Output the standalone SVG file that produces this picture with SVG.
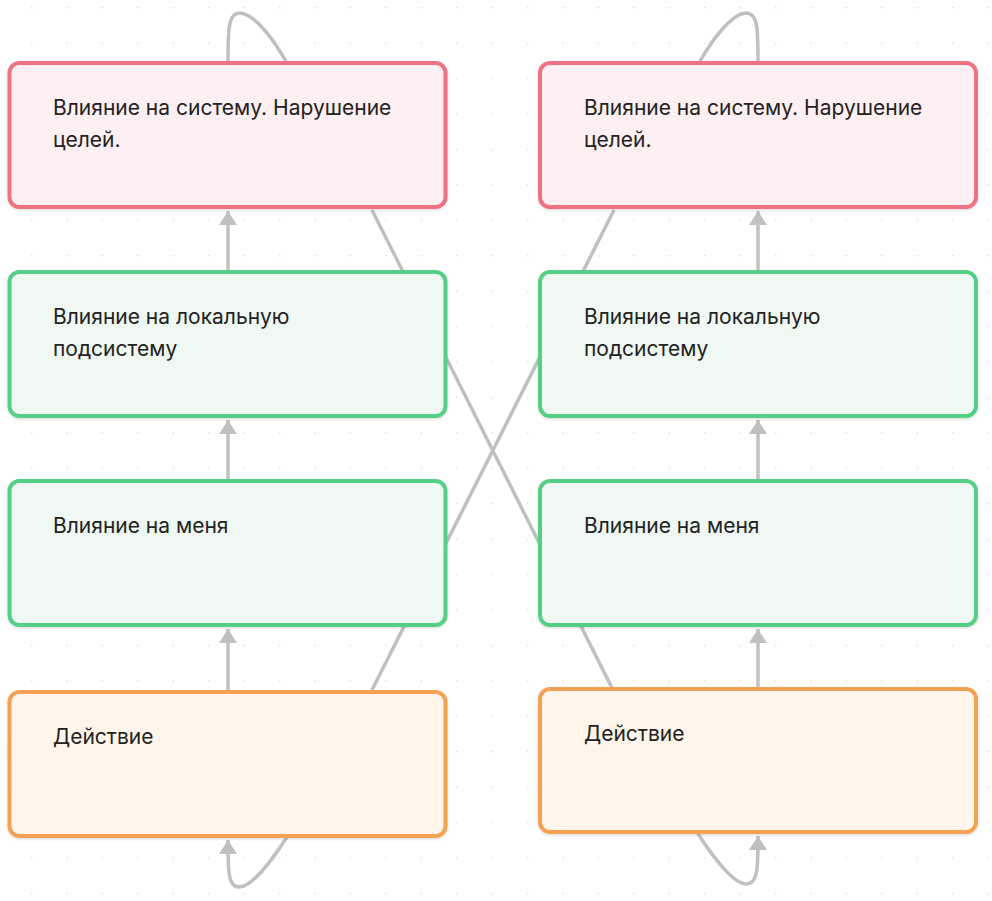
<svg xmlns="http://www.w3.org/2000/svg" width="992" height="901" viewBox="0 0 992 901">
  <defs>
    <pattern id="dots" x="30.85" y="7" width="35.43" height="35.43" patternUnits="userSpaceOnUse">
      <circle cx="0.5" cy="0.5" r="1" fill="#dcdcdc"/>
    </pattern>
    <marker id="arrow" markerUnits="userSpaceOnUse" markerWidth="20" markerHeight="20" refX="14" refY="9" orient="auto">
      <path d="M0,0 L14,9 L0,18 Z" fill="#c0c0c0"/>
    </marker>
    <filter id="shadow" x="-5%" y="-5%" width="110%" height="115%">
      <feDropShadow dx="0" dy="1.5" stdDeviation="1.2" flood-color="#000" flood-opacity="0.12"/>
    </filter>
  </defs>
  <style>
    .conn { fill: none; stroke: #c0c0c0; stroke-width: 3.5; }
    .node rect { stroke-width: 4; filter: url(#shadow); }
    .red rect { fill: #fdeff2; stroke: #ee7282; }
    .green rect { fill: #eff8f3; stroke: #55cf85; }
    .orange rect { fill: #fff5eb; stroke: #f5a152; }
    .node text { font-family: Inter, "Liberation Sans", sans-serif; font-size: 21px; fill: #222222; }
  </style>
  <rect width="992" height="901" fill="#ffffff"/>
  <rect width="992" height="901" fill="url(#dots)"/>

  <g id="connectors">
    <line class="conn" x1="372" y1="690" x2="614" y2="210"/>
    <line class="conn" x1="612" y1="688" x2="372" y2="210"/>
    <path class="conn" d="M228 690 L228 629" marker-end="url(#arrow)"/>
    <path class="conn" d="M228 481 L228 420" marker-end="url(#arrow)"/>
    <path class="conn" d="M228 272 L228 211" marker-end="url(#arrow)"/>
    <path class="conn" d="M758 688 L758 629" marker-end="url(#arrow)"/>
    <path class="conn" d="M758 481 L758 420" marker-end="url(#arrow)"/>
    <path class="conn" d="M758 272 L758 211" marker-end="url(#arrow)"/>
    <path class="conn" d="M228 63 C228 30 228 13 240 13 C255 14 274 40 287 63"/>
    <path class="conn" d="M758 63 C758 30 758 13 746 13 C731 14 712 40 699 63"/>
    <path class="conn" d="M287 837 C272 860 252 888 238 887 C228 886 228 870 228 840" marker-end="url(#arrow)"/>
    <path class="conn" d="M697 832 C712 856 734 885 747 884 C758 883 758 867 758 836" marker-end="url(#arrow)"/>
  </g>

  <g id="node-left-system" class="node red">
    <rect x="9.5" y="63" width="436" height="144" rx="10"/>
    <text x="53" y="115">Влияние на систему. Нарушение</text>
    <text x="53" y="147">целей.</text>
  </g>
  <g id="node-left-local" class="node green">
    <rect x="9.5" y="272" width="436" height="144" rx="10"/>
    <text x="53" y="324">Влияние на локальную</text>
    <text x="53" y="356">подсистему</text>
  </g>
  <g id="node-left-me" class="node green">
    <rect x="9.5" y="481" width="436" height="144" rx="10"/>
    <text x="53" y="533">Влияние на меня</text>
  </g>
  <g id="node-left-action" class="node orange">
    <rect x="9.5" y="692" width="436" height="144" rx="10"/>
    <text x="53" y="744">Действие</text>
  </g>

  <g id="node-right-system" class="node red">
    <rect x="540" y="63" width="436" height="144" rx="10"/>
    <text x="584" y="115">Влияние на систему. Нарушение</text>
    <text x="584" y="147">целей.</text>
  </g>
  <g id="node-right-local" class="node green">
    <rect x="540" y="272" width="436" height="144" rx="10"/>
    <text x="584" y="324">Влияние на локальную</text>
    <text x="584" y="356">подсистему</text>
  </g>
  <g id="node-right-me" class="node green">
    <rect x="540" y="481" width="436" height="144" rx="10"/>
    <text x="584" y="533">Влияние на меня</text>
  </g>
  <g id="node-right-action" class="node orange">
    <rect x="540" y="689" width="436" height="143" rx="10"/>
    <text x="584" y="741">Действие</text>
  </g>
</svg>
